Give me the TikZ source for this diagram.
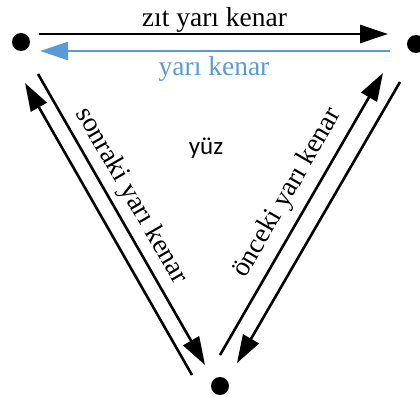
\documentclass[tikz,border=0pt]{standalone}
\usepackage{fontspec}
\setmainfont{Liberation Serif}
\newfontfamily\yuzfont{Carlito}
\usetikzlibrary{arrows.meta}
\definecolor{halfblue}{HTML}{5B9BD5}
\begin{document}
\begin{tikzpicture}[x=1pt,y=-1pt,
  vertex/.style={circle,fill=black,inner sep=0pt,minimum size=18pt},
  harrow/.style={line width=2.6pt,-{Triangle[length=28pt,width=18pt]}},
  lbl/.style={font=\fontsize{27.5}{30}\selectfont,inner sep=0pt}
]
\useasboundingbox (0,0) rectangle (420,398);
% vertices
\node[vertex] (vl) at (21,42) {};
\node[vertex] (vr) at (416,44) {};
\node[vertex] (vb) at (220,386) {};
% arrow end points
\coordinate (t1s) at (39,34);   \coordinate (t1e) at (388,34);
\coordinate (t2s) at (390,51);  \coordinate (t2e) at (40,51);
\coordinate (l1s) at (192,375); \coordinate (l1e) at (25,83);
\coordinate (l2s) at (38,74);   \coordinate (l2e) at (205,365);
\coordinate (r1s) at (220,355); \coordinate (r1e) at (383,73);
\coordinate (r2s) at (400,82);  \coordinate (r2e) at (237,363);
% arrows
\draw[harrow] (t1s) -- (t1e);
\draw[harrow,halfblue] (t2s) -- (t2e);
\draw[harrow] (l1s) -- (l1e);
\draw[harrow] (l2s) -- (l2e);
\draw[harrow] (r1s) -- (r1e);
\draw[harrow] (r2s) -- (r2e);
% labels
\node[lbl,anchor=base] (lt) at (214.5,27) {zıt yarı kenar};
\node[lbl,anchor=base,text=halfblue] (lb) at (214,76) {yarı kenar};
\node[inner sep=0pt,anchor=base,font=\yuzfont\fontsize{25}{28}\selectfont] (face) at (206,155) {yüz};
\node[lbl,rotate=-60] (ls) at (131,196) {sonraki yarı kenar};
\node[lbl,rotate=60] (rs) at (288,193) {önceki yarı kenar};
\end{tikzpicture}
\end{document}
